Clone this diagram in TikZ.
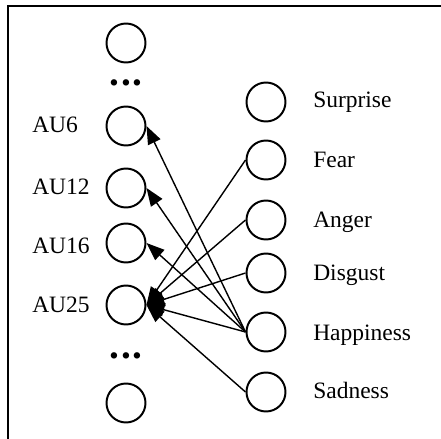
\documentclass[tikz,border=0pt]{standalone}
\usepackage{fontspec}
\setmainfont{Liberation Serif}
\usetikzlibrary{arrows.meta}

\begin{document}
\begin{tikzpicture}[x=0.025cm, y=-0.025cm]
  \tikzset{
    unit/.style={draw, circle, line width=1.4pt, minimum size=0.975cm, inner sep=0pt},
    lbl/.style={anchor=base west, inner sep=0pt, font=\fontsize{16.7}{20}\selectfont},
    dots/.style={inner sep=0pt, font=\fontsize{28}{30}\selectfont\bfseries},
    link/.style={line width=1pt, -{Triangle[length=0.45cm, width=0.34cm]}},
  }
  \useasboundingbox (0,0) rectangle (441,439);

  % frame
  \draw[line width=1.4pt] (8,439) |- (441,6);

  % action units
  \node[unit] (au_top) at (126,43) {};
  \node[dots] (dots_top) at (126,83) {.\hspace{1.3pt}.\hspace{1.3pt}.};
  \node[unit] (au6) at (126,126) {};
  \node[unit] (au12) at (126,188) {};
  \node[unit] (au16) at (126,243) {};
  \node[unit] (au25) at (126,305) {};
  \node[dots] (dots_bot) at (126,356) {.\hspace{1.3pt}.\hspace{1.3pt}.};
  \node[unit] (au_bot) at (126,403) {};

  \node[lbl] (au6_lbl) at (32,133) {AU6};
  \node[lbl] (au12_lbl) at (32,195) {AU12};
  \node[lbl] (au16_lbl) at (32,253) {AU16};
  \node[lbl] (au25_lbl) at (32,312) {AU25};

  % emotions
  \node[unit] (surprise) at (266,102) {};
  \node[unit] (fear) at (266,160) {};
  \node[unit] (anger) at (266,220) {};
  \node[unit] (disgust) at (266,273) {};
  \node[unit] (happiness) at (266,332) {};
  \node[unit] (sadness) at (266,392) {};

  \node[lbl] (surprise_lbl) at (313,108) {Surprise};
  \node[lbl] (fear_lbl) at (313,168) {Fear};
  \node[lbl] (anger_lbl) at (313,228) {Anger};
  \node[lbl] (disgust_lbl) at (313,280) {Disgust};
  \node[lbl] (happiness_lbl) at (313,340) {Happiness};
  \node[lbl] (sadness_lbl) at (313,398) {Sadness};

  % links
  \draw[link] (happiness.west) -- (au6.east);
  \draw[link] (happiness.west) -- (au12.east);
  \draw[link] (happiness.west) -- (au16.east);
  \draw[link] (happiness.west) -- (au25.east);
  \draw[link] (fear.west) -- (au25.east);
  \draw[link] (anger.west) -- (au25.east);
  \draw[link] (disgust.west) -- (au25.east);
  \draw[link] (sadness.west) -- (au25.east);
\end{tikzpicture}
\end{document}
